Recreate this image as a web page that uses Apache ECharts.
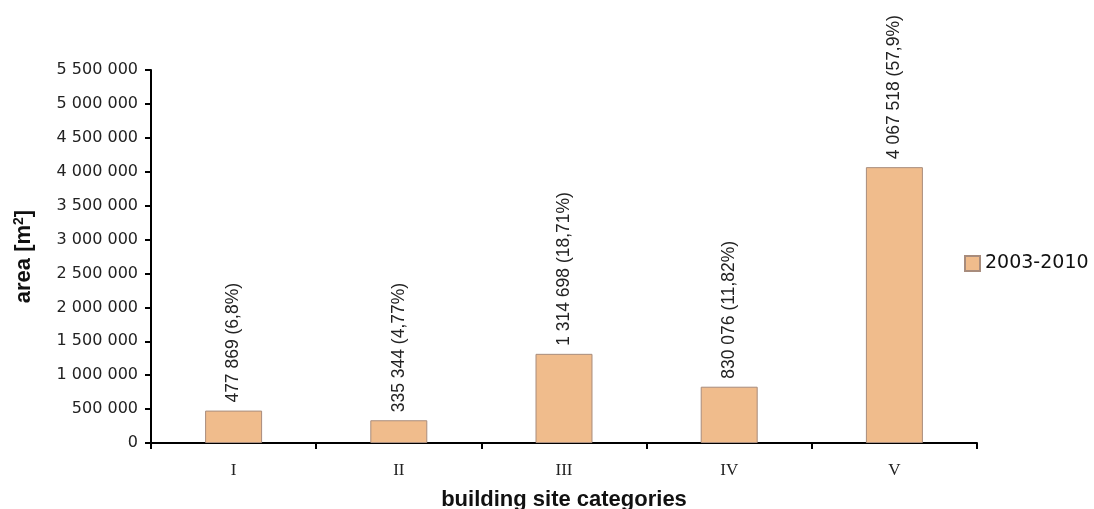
<!DOCTYPE html>
<html>
<head>
<meta charset="utf-8">
<script src="https://cdn.jsdelivr.net/npm/echarts@6/dist/echarts.min.js"></script>
<style>
  html, body { margin: 0; padding: 0; background: #fff; }
  #chart { width: 1094px; height: 509px; }
</style>
</head>
<body>
<div id="chart"></div>
<script>
// Building site categories and their area for 2003-2010
const categories = ['I', 'II', 'III', 'IV', 'V'];
const areaValues = [477869, 335344, 1314698, 830076, 4067518];
const shareLabels = ['6,8%', '4,77%', '18,71%', '11,82%', '57,9%'];
const seriesName = '2003-2010';

function spaced(n) {
  return String(n).replace(/\B(?=(\d{3})+(?!\d))/g, ' ');
}

const chart = echarts.init(document.getElementById('chart'), null, { renderer: 'canvas' });

chart.setOption({
  animation: false,
  backgroundColor: '#ffffff',
  grid: { left: 151, right: 117, top: 70, bottom: 66, containLabel: false, outerBoundsMode: 'none' },
  legend: {
    data: [seriesName],
    orient: 'vertical',
    left: 959,
    top: 249,
    icon: 'rect',
    itemWidth: 15,
    itemHeight: 15,
    itemGap: 6,
    textStyle: { fontFamily: 'DejaVu Sans', fontSize: 19, color: '#111' }
  },
  xAxis: {
    type: 'category',
    data: categories,
    name: 'building site categories',
    nameLocation: 'middle',
    nameGap: 46,
    nameTextStyle: { fontFamily: 'Liberation Sans', fontWeight: 'bold', fontSize: 22, color: '#111' },
    axisLine: { lineStyle: { color: '#000', width: 2 } },
    axisTick: { show: true, inside: false, length: 6, lineStyle: { color: '#000', width: 2 } },
    axisLabel: { fontFamily: 'Liberation Serif', fontSize: 17, color: '#222', margin: 19 }
  },
  yAxis: {
    type: 'value',
    min: 0,
    max: 5500000,
    interval: 500000,
    name: '{n|area [m}{s|2}{n|]}',
    nameLocation: 'middle',
    nameGap: 115,
    nameRotate: 90,
    nameTextStyle: {
      rich: {
        n: { fontFamily: 'Liberation Sans', fontWeight: 'bold', fontSize: 22, color: '#111' },
        s: { fontFamily: 'Liberation Sans', fontWeight: 'bold', fontSize: 14, color: '#111', verticalAlign: 'top', padding: [0, 0, 10, 0] }
      }
    },
    axisLine: { show: true, lineStyle: { color: '#000', width: 2 } },
    axisTick: { show: true, inside: false, length: 6, lineStyle: { color: '#000', width: 2 } },
    splitLine: { show: false },
    axisLabel: {
      fontFamily: 'DejaVu Sans',
      fontSize: 16,
      color: '#222',
      margin: 13,
      formatter: v => spaced(v)
    }
  },
  series: [{
    name: seriesName,
    type: 'bar',
    data: areaValues,
    barWidth: '34.5%',
    itemStyle: { color: '#F0BC8C', borderColor: '#a88c7c', borderWidth: 1 },
    label: {
      show: true,
      position: 'top',
      rotate: 90,
      align: 'left',
      verticalAlign: 'middle',
      distance: 8,
      fontFamily: 'Liberation Sans',
      fontSize: 17.5,
      color: '#222',
      formatter: p => spaced(p.value) + ' (' + shareLabels[p.dataIndex] + ')'
    }
  }]
});
</script>
</body>
</html>
